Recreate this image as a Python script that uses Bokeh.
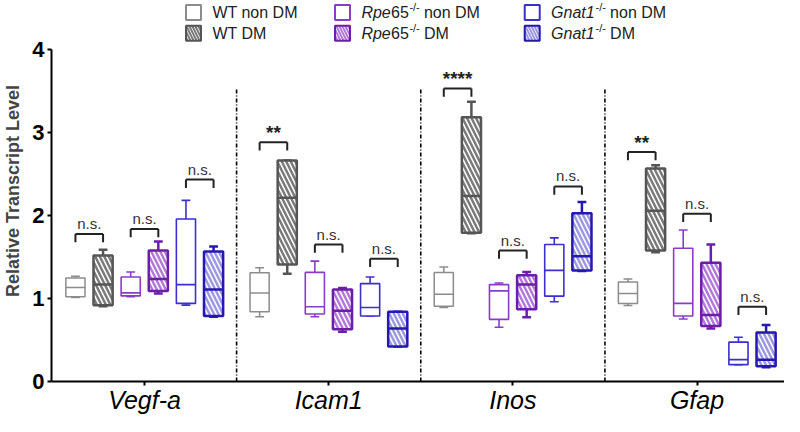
from bokeh.plotting import figure
from bokeh.models import FixedTicker, Range1d, ColumnDataSource
from bokeh.core.properties import value
from bokeh.embed import file_html
from bokeh.resources import INLINE

genes = ["Vegf-a", "Icam1", "Inos", "Gfap"]

# [min, q1, median, q3, max] per gene
wt_non_dm = [[1.01, 1.02, 1.13, 1.245, 1.266], [0.78, 0.84, 1.066, 1.31, 1.37],
             [0.89, 0.907, 1.051, 1.313, 1.377], [0.916, 0.94, 1.059, 1.198, 1.234]]
wt_dm = [[0.907, 0.919, 1.166, 1.516, 1.585], [1.298, 1.409, 2.21, 2.66, 2.66],
         [1.783, 1.791, 2.233, 3.18, 3.367], [1.556, 1.576, 2.054, 2.563, 2.603]]
rpe_non_dm = [[1.02, 1.03, 1.066, 1.257, 1.317], [0.78, 0.812, 0.90, 1.313, 1.449],
              [0.653, 0.748, 1.09, 1.166, 1.186], [0.752, 0.788, 0.94, 1.604, 1.823]]
rpe_dm = [[1.059, 1.09, 1.234, 1.576, 1.684], [0.60, 0.629, 0.851, 1.107, 1.126],
          [0.772, 0.868, 1.166, 1.278, 1.317], [0.637, 0.669, 0.80, 1.429, 1.648]]
gnat_non_dm = [[0.919, 0.94, 1.166, 1.955, 2.18], [0.788, 0.788, 0.89, 1.178, 1.257],
               [0.959, 1.027, 1.337, 1.648, 1.728], [0.203, 0.203, 0.263, 0.474, 0.533]]
gnat_dm = [[0.78, 0.788, 1.107, 1.564, 1.624], [0.422, 0.422, 0.637, 0.84, 0.84],
           [1.329, 1.337, 1.508, 2.026, 2.161], [0.171, 0.183, 0.263, 0.589, 0.681]]

sig_labels = [["n.s.", "n.s.", "n.s."], ["**", "n.s.", "n.s."],
              ["****", "n.s.", "n.s."], ["**", "n.s.", "n.s."]]
sig_heights = [[1.776, 1.835, 2.43], [2.88, 1.648, 1.477],
               [3.526, 1.576, 2.348], [2.762, 2.02, 0.899]]
y_ticks = [0, 1, 2, 3, 4]

FONT = value("Liberation Sans")

series = [
    (wt_non_dm, "#8c8c8c", 1.5, None),
    (wt_dm, "#555555", 2.5, "#7a7a7a"),
    (rpe_non_dm, "#8a3cc8", 1.6, None),
    (rpe_dm, "#6b1fa8", 2.5, "#b27ad8"),
    (gnat_non_dm, "#3b2fd0", 1.6, None),
    (gnat_dm, "#2418b0", 2.5, "#9d98e0"),
]
offsets = [-0.375, -0.225, -0.075, 0.075, 0.225, 0.375]
HW = 0.052
CW = 0.024

X0, X1 = -0.505, 3.475
YTOP = 4.585
W, H = 784, 416
BL, BB = 46, 32

p = figure(width=W, height=H, x_range=Range1d(X0, X1), y_range=Range1d(0, YTOP),
           output_backend="svg", toolbar_location=None,
           min_border_left=BL, min_border_right=0, min_border_top=0, min_border_bottom=BB)
p.outline_line_color = None
p.xgrid.visible = False
p.ygrid.visible = False
p.background_fill_color = "white"

pxx = (W - BL) / (X1 - X0)
pxy = (H - BB) / YTOP


def X(px):
    return X0 + (px - (8 + BL)) / pxx


def Y(py):
    return (8 + H - BB - py) / pxy


# separators
p.segment(x0=[0.5, 1.5, 2.5], y0=[0, 0, 0], x1=[0.5, 1.5, 2.5], y1=[3.52, 3.52, 3.52],
          line_color="black", line_width=1.6, line_dash="4 2 1 2")

for s, (data, col, lw, hatch) in enumerate(series):
    xs = [i + offsets[s] for i in range(len(genes))]
    src = ColumnDataSource(dict(
        x=xs, left=[x - HW for x in xs], right=[x + HW for x in xs],
        cl=[x - CW for x in xs], cr=[x + CW for x in xs],
        mn=[d[0] for d in data], q1=[d[1] for d in data], med=[d[2] for d in data],
        q3=[d[3] for d in data], mx=[d[4] for d in data]))
    p.segment(x0="x", y0="q3", x1="x", y1="mx", source=src, line_color=col, line_width=lw)
    p.segment(x0="x", y0="q1", x1="x", y1="mn", source=src, line_color=col, line_width=lw)
    p.segment(x0="cl", y0="mx", x1="cr", y1="mx", source=src, line_color=col, line_width=lw)
    p.segment(x0="cl", y0="mn", x1="cr", y1="mn", source=src, line_color=col, line_width=lw)
    if hatch:
        p.quad(left="left", right="right", bottom="q1", top="q3", source=src,
               fill_color="white", line_color=col, line_width=lw,
               hatch_pattern="left_diagonal_line", hatch_color=hatch,
               hatch_scale=9, hatch_weight=2.5)
    else:
        p.quad(left="left", right="right", bottom="q1", top="q3", source=src,
               fill_color="white", line_color=col, line_width=lw)
    p.segment(x0="left", y0="med", x1="right", y1="med", source=src, line_color=col, line_width=lw)

# significance brackets
LEG = 0.1
bx0, by0, bx1, by1 = [], [], [], []
tx, ty, tt = [], [], []
sx, sy, st = [], [], []
for i in range(len(genes)):
    for k in range(3):
        xa = i + offsets[2 * k]
        xb = i + offsets[2 * k + 1]
        h = sig_heights[i][k]
        bx0 += [xa, xa, xb]
        by0 += [h, h, h]
        bx1 += [xb, xa, xb]
        by1 += [h, h - LEG, h - LEG]
        if sig_labels[i][k].startswith("*"):
            sx.append((xa + xb) / 2); sy.append(h); st.append(sig_labels[i][k])
        else:
            tx.append((xa + xb) / 2); ty.append(h); tt.append(sig_labels[i][k])
p.segment(x0=bx0, y0=by0, x1=bx1, y1=by1, line_color="#222222", line_width=2)
p.text(x=tx, y=ty, text=tt, text_align="center", text_baseline="bottom", y_offset=-2,
       text_font=FONT, text_font_size="15px", text_color="#333333")
p.text(x=sx, y=sy, text=st, text_align="center", text_baseline="bottom", y_offset=1,
       text_font=FONT, text_font_size="19px", text_font_style="bold", text_color="#222222")

# axes
ya = p.yaxis[0]
ya.ticker = FixedTicker(ticks=y_ticks)
ya.bounds = (0, 4)
ya.axis_line_width = 2
ya.major_tick_line_width = 2
ya.major_tick_out = 4
ya.major_tick_in = 0
ya.minor_tick_line_color = None
ya.major_label_standoff = 3
ya.major_label_text_font = "Liberation Sans"
ya.major_label_text_font_style = "bold"
ya.major_label_text_font_size = "22px"
ya.major_label_text_color = "black"
ya.axis_label = "Relative Transcript Level"
ya.axis_label_text_font = "Liberation Sans"
ya.axis_label_text_font_style = "bold"
ya.axis_label_text_font_size = "18px"
ya.axis_label_standoff = 6

xa_ = p.xaxis[0]
xa_.ticker = FixedTicker(ticks=[0, 1, 2, 3])
xa_.major_label_overrides = {i: g for i, g in enumerate(genes)}
xa_.axis_line_width = 2
xa_.major_tick_line_width = 2
xa_.major_tick_out = 4
xa_.major_tick_in = 0
xa_.minor_tick_line_color = None
xa_.major_label_standoff = 0
xa_.major_label_text_font = "Liberation Sans"
xa_.major_label_text_font_style = "italic"
xa_.major_label_text_font_size = "25px"
xa_.major_label_text_color = "black"

# legend (drawn by hand)
leg_cols = [189, 339, 530]
leg_rows = [20, 41]
FS = 16
for c, base in enumerate([0, 2, 4]):
    for r in range(2):
        s = base + r
        data, col, lw, hatch = series[s]
        bx = X(leg_cols[c] + 8)
        by = Y(leg_rows[r])
        if hatch:
            p.rect(x=[bx], y=[by], width=15, height=15, width_units="screen", height_units="screen",
                   fill_color="white", line_color=col, line_width=2,
                   hatch_pattern="left_diagonal_line", hatch_color=hatch, hatch_scale=6, hatch_weight=2)
        else:
            p.rect(x=[bx], y=[by], width=15, height=15, width_units="screen", height_units="screen",
                   fill_color="white", line_color=col, line_width=2)
        tx0 = X(leg_cols[c] + 27)
        suffix = "DM" if r == 1 else "non DM"
        if c == 0:
            p.text(x=[tx0], y=[by], text=["WT " + suffix], text_baseline="middle",
                   text_font=FONT, text_font_size=f"{FS}px", text_color="#222222")
        else:
            if c == 1:
                w1 = 47.5
                p.text(x=[tx0], y=[by], text=["Rpe"], text_baseline="middle",
                       text_font=FONT, text_font_size=f"{FS}px", text_font_style="italic", text_color="#222222")
                p.text(x=[tx0], y=[by], text=["65"], x_offset=29.7, text_baseline="middle",
                       text_font=FONT, text_font_size=f"{FS}px", text_color="#222222")
            else:
                w1 = 44
                p.text(x=[tx0], y=[by], text=["Gnat1"], text_baseline="middle",
                       text_font=FONT, text_font_size=f"{FS}px", text_font_style="italic", text_color="#222222")
            p.text(x=[tx0], y=[by], text=["-/-"], x_offset=w1 + 0.5, y_offset=-5, text_baseline="middle",
                   text_font=FONT, text_font_size="11px", text_color="#222222")
            p.text(x=[tx0], y=[by], text=[suffix], x_offset=w1 + 15, text_baseline="middle",
                   text_font=FONT, text_font_size=f"{FS}px", text_color="#222222")

open("out.html", "w").write(file_html(p, INLINE))
